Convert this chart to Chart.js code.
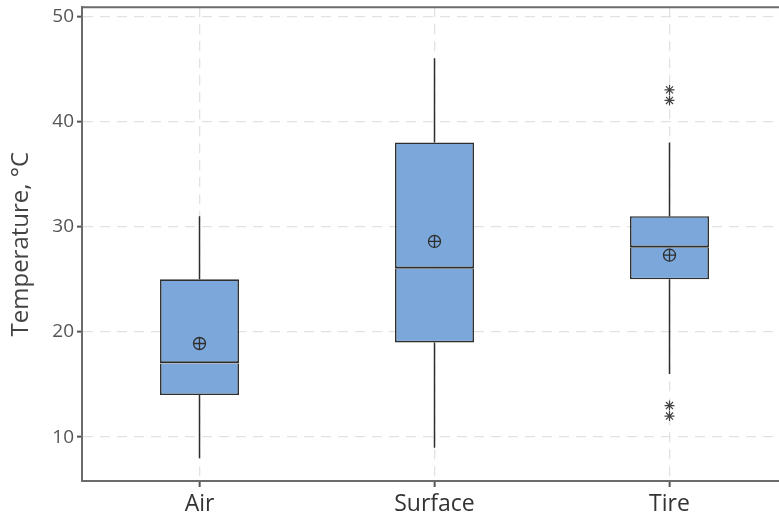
<!DOCTYPE html>
<html><head><meta charset="utf-8">
<script src="https://cdn.jsdelivr.net/npm/chart.js@4/dist/chart.umd.min.js"></script>
<style>html,body{margin:0;padding:0;overflow:hidden;background:#fff}#wrap{width:800px;height:518px}</style>
</head><body><div id="wrap"><canvas id="c" width="800" height="518"></canvas></div>
<script>
const categories = ['Air', 'Surface', 'Tire'];
const whiskerMin = [8, 9, 16];
const q1Values = [14, 19, 25];
const medianValues = [17, 26, 28];
const q3Values = [25, 38, 31];
const whiskerMax = [31, 46, 38];
const meanValues = [18.9, 28.6, 27.3];
const outlierCats = ['Tire', 'Tire', 'Tire', 'Tire'];
const outlierValues = [43, 42, 13, 12];
const yTicks = [10, 20, 30, 40, 50];

const boxFill = '#7BA7DA';
const dark = '#2e2e2e';

const whiskerData = [];
categories.forEach((c, i) => {
  whiskerData.push({x: c, y: q3Values[i]}, {x: c, y: whiskerMax[i]}, {x: c, y: null});
  whiskerData.push({x: c, y: whiskerMin[i]}, {x: c, y: q1Values[i]}, {x: c, y: null});
});
const meanData = categories.map((c, i) => ({x: c, y: meanValues[i]}));
const outlierData = outlierCats.map((c, i) => ({x: c, y: outlierValues[i]}));

const frame = {
  id: 'frame',
  afterDraw(chart) {
    const a = chart.chartArea, ctx = chart.ctx;
    ctx.save();
    ctx.strokeStyle = '#6b6b6b';
    ctx.lineWidth = 2;
    ctx.beginPath();
    ctx.moveTo(a.left, a.bottom);
    ctx.lineTo(a.left, a.top);
    ctx.lineTo(a.right, a.top);
    ctx.stroke();
    ctx.restore();
  }
};

new Chart(document.getElementById('c'), {
  type: 'bar',
  data: {
    labels: categories,
    datasets: [
      {type: 'bar', label: 'Lower box', data: categories.map((c, i) => [q1Values[i], medianValues[i]]),
       backgroundColor: boxFill, borderColor: dark, borderWidth: 1.6, borderSkipped: 'top',
       grouped: false, barPercentage: 0.336, categoryPercentage: 1, order: 3},
      {type: 'bar', label: 'Upper box', data: categories.map((c, i) => [medianValues[i], q3Values[i]]),
       backgroundColor: boxFill, borderColor: dark, borderWidth: {top: 1.6, left: 1.6, right: 1.6, bottom: 2.2}, borderSkipped: false,
       grouped: false, barPercentage: 0.336, categoryPercentage: 1, order: 2},
      {type: 'line', label: 'Whiskers', data: whiskerData, borderColor: dark, borderWidth: 1.5,
       pointRadius: 0, spanGaps: false, fill: false, order: 4},
      {type: 'line', label: 'Mean', data: meanData, showLine: false, pointStyle: 'circle',
       pointRadius: 6, pointBackgroundColor: 'rgba(0,0,0,0)', pointBorderColor: dark, pointBorderWidth: 1.3, order: 1},
      {type: 'line', label: 'Mean cross', data: meanData, showLine: false, pointStyle: 'cross',
       pointRadius: 6, pointBorderColor: dark, pointBorderWidth: 1.3, order: 0},
      {type: 'line', label: 'Outliers', data: outlierData, showLine: false, pointStyle: 'star',
       pointRadius: 5, pointBorderColor: '#444', pointBorderWidth: 1.2, order: 0}
    ]
  },
  options: {
    responsive: false,
    animation: false,
    devicePixelRatio: 1,
    layout: {padding: {top: 6, right: 13, left: 0, bottom: 0}},
    plugins: {legend: {display: false}, tooltip: {enabled: false}},
    scales: {
      x: {
        type: 'category',
        offset: true,
        grid: {offset: false, color: '#e2e2e2', lineWidth: 1.3,
               drawTicks: true, tickLength: 6, tickColor: '#555', tickWidth: 2, tickBorderDash: []},
        border: {display: true, color: '#6b6b6b', width: 2, dash: [10, 7]},
        ticks: {color: '#333', font: {family: 'Open Sans', size: 23}, padding: 4},
        afterFit: s => { s.height = 37; s.paddingLeft = 0; s.paddingRight = 0; }
      },
      y: {
        min: 5.83, max: 50.85,
        afterBuildTicks: s => { s.ticks = yTicks.map(v => ({value: v})); },
        grid: {color: '#e2e2e2', lineWidth: 1.3,
               drawTicks: true, tickLength: 5, tickColor: '#555', tickWidth: 2, tickBorderDash: []},
        border: {display: true, color: '#6b6b6b', width: 2, dash: [10, 7]},
        ticks: {color: '#555', font: {family: 'Open Sans', size: 19}, padding: 3},
        title: {display: true, text: 'Temperature, °C', color: '#444', font: {family: 'Open Sans', size: 24}, padding: {top: 7, bottom: 0}},
        afterFit: s => { s.width = 82; s.paddingTop = 0; s.paddingBottom = 0; }
      }
    }
  },
  plugins: [frame]
});
</script>
</body></html>
